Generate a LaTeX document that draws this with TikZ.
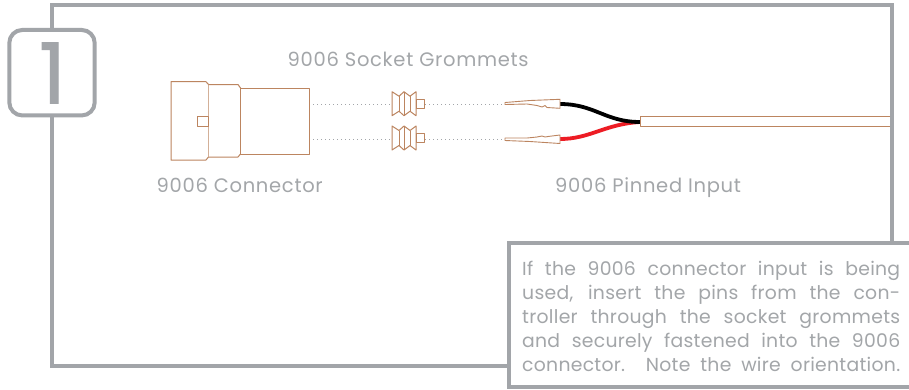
\documentclass[tikz,border=0pt]{standalone}
\usepackage{fontspec}
\setmainfont{Poppins}
\newfontfamily\notefont[LetterSpace=1.5]{Poppins}
\newfontfamily\labelfont[LetterSpace=3.6]{Poppins}
\newfontfamily\badgefont[FakeBold=1.3]{Poppins}
\definecolor{framegrey}{HTML}{A2A5A9}
\definecolor{textgrey}{HTML}{A3A6A9}
\definecolor{copperline}{HTML}{BC8560}
\definecolor{wirered}{HTML}{ED1C24}
\tikzset{
  panel/.style={draw=framegrey,line width=4pt,fill=white},
  part/.style={draw=copperline,line width=1pt,line join=round,fill=white},
  guide/.style={draw=framegrey,line width=1pt,dash pattern=on 1pt off 3pt},
  wire/.style={line width=3.8pt},
  lbl/.style={text=textgrey,inner sep=0pt,anchor=base west,font=\labelfont\fontsize{19.5}{22}\selectfont},
  notelbl/.style={text=textgrey,inner sep=0pt,anchor=base west,font=\notefont\fontsize{18.8}{20}\selectfont},
}
\newcommand{\grommetshape}[3]{% y top, y bottom, flange top
  \draw[part] (392,#1) -- (399,#1+4.5) -- (404,#1) -- (410,#1+4.5) -- (416,#1) -- (416,#2) -- (410,#2-4.5) -- (404,#2) -- (399,#2-4.5) -- (392,#2) -- cycle;
  \draw[part] (399,#1+4.5) -- (399,#2-4.5) (404,#1) -- (404,#2) (410,#1+4.5) -- (410,#2-4.5);
  \draw[part] (416.5,#3) rectangle (424.5,#3+9.5);
}
\begin{document}
\begin{tikzpicture}[x=1pt,y=-1pt]
\useasboundingbox (0,0) rectangle (909,389);
\fill[white] (0,0) rectangle (909,389);
% outer frame
\draw[panel] (52,4.7) rectangle (892,366);
% badge
\node[panel,rounded corners=13pt,minimum width=85.4pt,minimum height=85.5pt,inner sep=0pt,anchor=center] (badge) at (52,72.7) {};
\node[text=framegrey,inner sep=0pt,font=\badgefont\fontsize{84}{84}\selectfont] (badgenum) at (52.5,73) {1};
% text box
\node[panel,minimum width=412pt,minimum height=143.5pt,inner sep=0pt,anchor=north west] (note) at (507,241) {};
\node[notelbl] (n1) at (522,275) {\makebox[378pt][s]{If the 9006 connector input is being}};
\node[notelbl] (n2) at (522,299) {\makebox[378pt][s]{used, insert the pins from the con-}};
\node[notelbl] (n3) at (522,323) {\makebox[378pt][s]{troller through the socket grommets}};
\node[notelbl] (n4) at (522,347.5) {\makebox[378pt][s]{and securely fastened into the 9006}};
\node[notelbl] (n5) at (522,371) {\makebox[378pt][s]{connector. Note the wire orientation.}};
% labels
\node[lbl] (lsock) at (287.5,66.5) {9006 Socket Grommets};
\node[lbl] (lconn) at (156.5,192.5) {9006 Connector};
\node[lbl] (lpin) at (555,192) {9006 Pinned Input};
% guides
\coordinate (cA) at (309,104); \coordinate (cB) at (309,139);
\coordinate (gAl) at (392,104); \coordinate (gBl) at (392,139);
\coordinate (gAr) at (425,104); \coordinate (gBr) at (425,139);
\coordinate (pA) at (505,104); \coordinate (pB) at (505,139);
\draw[guide] (cA) -- (gAl) (cB) -- (gBl) (gAr) -- (pA) (gBr) -- (pB);
% connector
\draw[part] (171,81.7) -- (206,81.7) -- (208.5,84.5) -- (208.5,157) -- (206,160) -- (171,160) -- cycle;
\draw[part] (208.5,84.5) -- (238,84.5) -- (240.5,88) -- (240.5,154) -- (238,157) -- (208.5,157);
\draw[part] (240.5,88) rectangle (309,154.3);
\draw[part] (208.5,116) -- (197.5,116) -- (197.5,126.3) -- (208.5,126.3) -- cycle;
% grommets
\grommetshape{91.7}{115.7}{99.3}
\grommetshape{126}{150}{133.3}
% wires
\coordinate (wA) at (560,104); \coordinate (wB) at (560,139); \coordinate (wJ) at (640,122);
\draw[wire,wirered] (wB) .. controls (590,139) and (605,124) .. (wJ);
\draw[wire,black] (wA) .. controls (595,104) and (605,122) .. (wJ);
% pins
\draw[part,line width=0.9pt] (505,102.5) -- (530,100.5) -- (560,99.3) -- (560,108.3) -- (547,107.5) -- (545,105.5) -- (542,107) -- (537,105.5) -- (527,104) -- (505,104.5) -- cycle;
\draw[part,line width=0.9pt] (505,138) -- (527,138) -- (537,137) -- (542,136) -- (545,137) -- (548,136.5) -- (560,135) -- (560,143.5) -- (530,141.5) -- (505,140.5) -- cycle;
% jacket
\draw[part] (890,116.7) -- (640,116.7) -- (640,126.7) -- (890,126.7);
\end{tikzpicture}
\end{document}
